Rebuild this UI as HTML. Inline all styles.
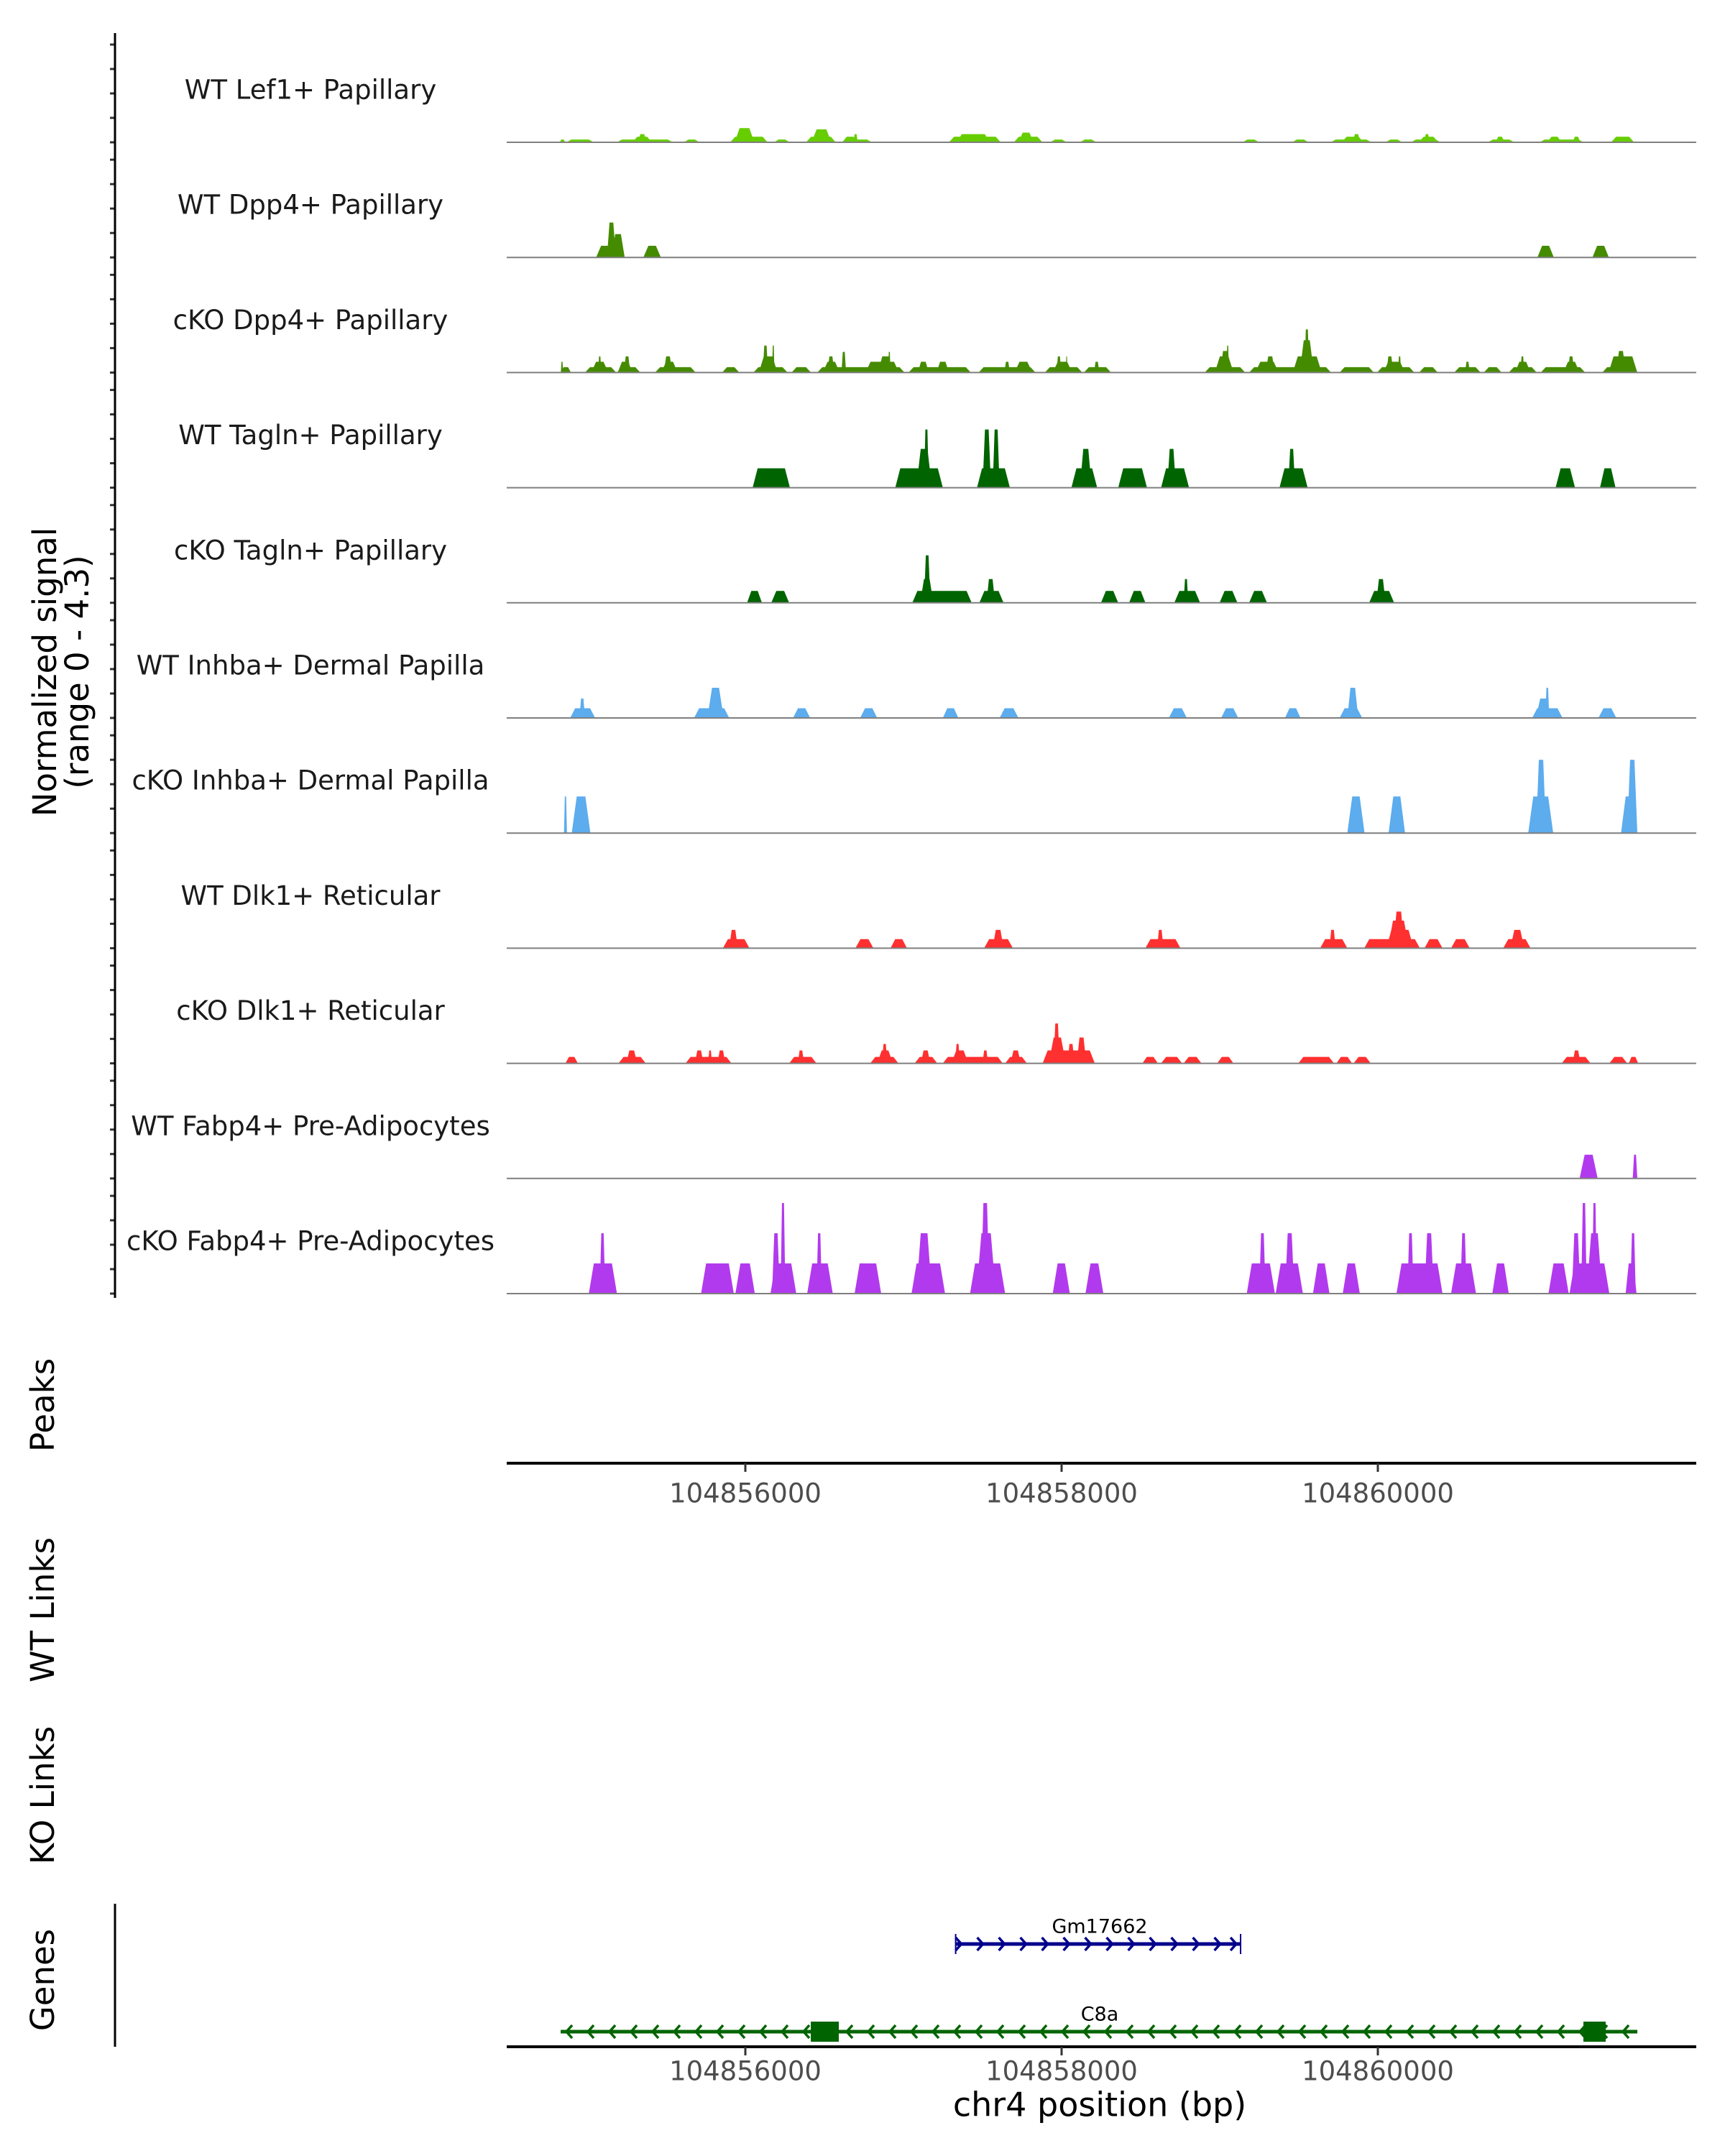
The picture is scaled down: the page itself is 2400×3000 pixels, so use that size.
<!DOCTYPE html>
<html><head><meta charset="utf-8">
<style>
html,body{margin:0;padding:0;background:#fff;}
svg{display:block;font-family:"DejaVu Sans","Liberation Sans",sans-serif;}
</style></head>
<body>
<svg id="chart" width="2400" height="3000" viewBox="0 0 2400 3000" xmlns="http://www.w3.org/2000/svg">
<rect width="2400" height="3000" fill="#fff"/>
<g id="tracks"></g>
<g id="axes"></g>
<g id="genes"></g>
</svg>
<script>
// ---------- data ----------
const trackNames = ["WT Lef1+ Papillary","WT Dpp4+ Papillary","cKO Dpp4+ Papillary","WT Tagln+ Papillary","cKO Tagln+ Papillary","WT Inhba+ Dermal Papilla","cKO Inhba+ Dermal Papilla","WT Dlk1+ Reticular","cKO Dlk1+ Reticular","WT Fabp4+ Pre-Adipocytes","cKO Fabp4+ Pre-Adipocytes"];
const trackColors = ["#66CD00","#458B00","#458B00","#006400","#006400","#5CACEE","#5CACEE","#FF3030","#FF3030","#B23AEE","#B23AEE"];
const xTicks = [104856000,104858000,104860000];
const xTickLabels = ["104856000","104858000","104860000"];
const yRangeMax = 4.3;

// each block: [start bp, end bp, signal]
const lef1WT = [[104854826,104854861,0.13],[104854868,104855042,0.13],[104855188,104855542,0.13],[104855285,104855410,0.26],[104855320,104855376,0.38],[104855612,104855709,0.13],[104855904,104856141,0.26],[104855932,104856057,0.66],[104856182,104856280,0.13],[104856384,104856572,0.26],[104856419,104856544,0.6],[104856606,104856801,0.13],[104856613,104856711,0.26],[104856683,104856711,0.38],[104857288,104857615,0.26],[104857337,104857546,0.38],[104857698,104857879,0.26],[104857726,104857824,0.45],[104857928,104858032,0.13],[104858116,104858220,0.13],[104859145,104859249,0.13],[104859458,104859562,0.13],[104859702,104859959,0.13],[104859771,104859910,0.26],[104859841,104859889,0.38],[104860049,104860154,0.13],[104860209,104860397,0.13],[104860258,104860383,0.26],[104860293,104860328,0.38],[104860696,104860863,0.13],[104860745,104860801,0.26],[104861023,104861301,0.13],[104861072,104861162,0.26],[104861232,104861280,0.26],[104861475,104861621,0.26]];
const dpp4WT = [[104855056,104855237,0.54],[104855153,104855237,1.08],[104855125,104855181,1.62],[104855355,104855466,0.54],[104861009,104861113,0.54],[104861357,104861461,0.54]];
const dpp4KO = [[104854833,104854897,0.25],[104854833,104854848,0.5],[104854986,104855183,0.25],[104855025,104855134,0.5],[104855069,104855089,0.75],[104855188,104855336,0.25],[104855193,104855286,0.5],[104855232,104855272,0.75],[104855429,104855686,0.25],[104855469,104855572,0.5],[104855484,104855538,0.75],[104855853,104855962,0.25],[104856051,104856267,0.25],[104856085,104856203,0.75],[104856110,104856144,1.25],[104856169,104856184,1.25],[104856292,104856415,0.25],[104856455,104857007,0.25],[104856489,104856598,0.5],[104856519,104856563,0.75],[104856608,104856637,0.96],[104856760,104856972,0.5],[104856839,104856933,0.75],[104856903,104856918,0.96],[104857032,104857426,0.25],[104857091,104857160,0.5],[104857209,104857288,0.5],[104857475,104857835,0.25],[104857638,104857673,0.5],[104857702,104857815,0.5],[104857894,104858131,0.25],[104857944,104858067,0.5],[104857968,104857998,0.75],[104858027,104858037,0.75],[104858141,104858313,0.25],[104858205,104858239,0.5],[104858905,104859161,0.25],[104858969,104859087,0.75],[104859004,104859063,1.0],[104859043,104859058,1.25],[104859186,104859704,0.25],[104859225,104859373,0.5],[104859290,104859349,0.75],[104859462,104859645,0.75],[104859506,104859595,1.5],[104859536,104859566,2.0],[104859758,104859975,0.25],[104859995,104860231,0.25],[104860034,104860172,0.5],[104860054,104860098,0.75],[104860128,104860147,0.75],[104860261,104860379,0.25],[104860483,104860650,0.25],[104860552,104860581,0.5],[104860670,104860783,0.25],[104860828,104861005,0.25],[104860867,104860966,0.5],[104860902,104860926,0.75],[104861030,104861311,0.25],[104861173,104861276,0.5],[104861202,104861242,0.75],[104861419,104861641,0.25],[104861459,104861641,0.75],[104861508,104861567,1.0]];
const taglnWT = [[104856046,104856282,0.9],[104856948,104857249,0.9],[104857081,104857180,1.8],[104857130,104857160,2.7],[104857465,104857673,0.9],[104857500,104857554,2.7],[104857564,104857608,2.7],[104858062,104858225,0.9],[104858116,104858190,1.8],[104858358,104858540,0.9],[104858629,104858806,0.9],[104858668,104858723,1.8],[104859378,104859556,0.9],[104859433,104859477,1.8],[104861124,104861247,0.9],[104861405,104861503,0.9]];
const taglnKO = [[104856011,104856105,0.55],[104856164,104856277,0.55],[104857056,104857431,0.55],[104857106,104857189,1.1],[104857130,104857170,2.2],[104857480,104857633,0.55],[104857525,104857579,1.1],[104858249,104858358,0.55],[104858427,104858530,0.55],[104858713,104858876,0.55],[104858772,104858801,1.1],[104858999,104859112,0.55],[104859186,104859299,0.55],[104859945,104860103,0.55],[104859990,104860049,1.1]];
const inhbaWT = [[104854892,104855050,0.45],[104854951,104854986,0.9],[104855676,104855898,0.45],[104855760,104855863,1.4],[104856302,104856410,0.45],[104856726,104856834,0.45],[104857249,104857347,0.45],[104857608,104857727,0.45],[104858678,104858792,0.45],[104859009,104859117,0.45],[104859413,104859511,0.45],[104859758,104859901,0.45],[104859807,104859876,1.4],[104860976,104861168,0.45],[104861000,104861094,0.9],[104861059,104861084,1.4],[104861395,104861508,0.45]];
const inhbaKO = [[104854853,104854872,1.7],[104854902,104855020,1.7],[104859807,104859916,1.7],[104860068,104860172,1.7],[104860951,104861109,1.7],[104861000,104861064,3.4],[104861538,104861641,1.7],[104861577,104861641,3.4]];
const dlk1WT = [[104855858,104856026,0.42],[104855898,104855952,0.85],[104856696,104856810,0.42],[104856918,104857022,0.42],[104857510,104857692,0.42],[104857564,104857633,0.85],[104858530,104858752,0.42],[104858604,104858644,0.85],[104859635,104859807,0.42],[104859694,104859733,0.85],[104859914,104860266,0.42],[104860054,104860226,0.85],[104860064,104860197,1.28],[104860098,104860167,1.7],[104860295,104860409,0.42],[104860463,104860581,0.42],[104860793,104860966,0.42],[104860838,104860926,0.85]];
const dlk1KO = [[104854862,104854941,0.3],[104855198,104855370,0.3],[104855247,104855316,0.6],[104855622,104855912,0.3],[104855681,104855735,0.6],[104855765,104855789,0.6],[104855824,104855873,0.6],[104856277,104856450,0.3],[104856332,104856371,0.6],[104856790,104856968,0.3],[104856834,104856933,0.6],[104856864,104856898,0.9],[104857071,104857214,0.3],[104857110,104857170,0.6],[104857249,104857628,0.3],[104857303,104857411,0.6],[104857327,104857357,0.9],[104857500,104857535,0.6],[104857643,104857781,0.3],[104857677,104857742,0.6],[104857880,104858210,0.6],[104857919,104858027,1.2],[104857949,104857988,1.85],[104858037,104858082,0.9],[104858096,104858156,1.2],[104858511,104858609,0.3],[104858629,104858762,0.3],[104858772,104858885,0.3],[104858984,104859087,0.3],[104859497,104859723,0.3],[104859738,104859837,0.3],[104859847,104859955,0.3],[104861163,104861345,0.3],[104861232,104861281,0.6],[104861464,104861577,0.3],[104861587,104861646,0.3]];
const fabp4WT = [[104861276,104861390,1.1],[104861612,104861641,1.1]];
const fabp4KO = [[104855010,104855188,1.4],[104855079,104855114,2.8],[104855720,104855927,1.4],[104855937,104856060,1.4],[104856159,104856322,1.4],[104856169,104856218,2.8],[104856223,104856253,4.2],[104856391,104856553,1.4],[104856450,104856484,2.8],[104856691,104856859,1.4],[104857051,104857263,1.4],[104857081,104857180,2.8],[104857421,104857643,1.4],[104857461,104857584,2.8],[104857490,104857544,4.2],[104857944,104858052,1.4],[104858151,104858264,1.4],[104859171,104859349,1.4],[104859250,104859290,2.8],[104859354,104859526,1.4],[104859413,104859472,2.8],[104859590,104859694,1.4],[104859778,104859886,1.4],[104860118,104860409,1.4],[104860187,104860226,2.8],[104860295,104860354,2.8],[104860463,104860621,1.4],[104860522,104860562,2.8],[104860724,104860828,1.4],[104861079,104861207,1.4],[104861212,104861464,1.4],[104861227,104861281,2.8],[104861286,104861321,4.2],[104861321,104861419,2.8],[104861355,104861385,4.2],[104861567,104861636,1.4],[104861597,104861631,2.8]];
const trackData = [lef1WT,dpp4WT,dpp4KO,taglnWT,taglnKO,inhbaWT,inhbaKO,dlk1WT,dlk1KO,fabp4WT,fabp4KO];

const geneNames = ["Gm17662","C8a"];
const geneStarts = [104857330,104854832];
const geneEnds = [104859132,104861641];
const geneStrands = [1,-1];
const geneColors = ["#00008B","#006400"];
const c8aExonStarts = [104856414,104861300];
const c8aExonEnds = [104856591,104861441];

// ---------- scales ----------
const NS="http://www.w3.org/2000/svg";
const X0=705, X1=2360;
function xs(bp){return 1037 + (bp-104856000)*0.22;}
const BASE0=198, TRACK_STEP=160.2, PX_PER_UNIT=30;
function baseY(i){return BASE0 + TRACK_STEP*i;}
function ys(i,v){return baseY(i) - v*PX_PER_UNIT;}
function mk(tag,attrs,parent){const e=document.createElementNS(NS,tag);for(const k in attrs)e.setAttribute(k,attrs[k]);parent.appendChild(e);return e;}

const gT=document.getElementById('tracks'), gA=document.getElementById('axes'), gG=document.getElementById('genes');

trackNames.forEach((name,i)=>{
  const g=mk('g',{},gT);
  
  
  const lbl=mk('text',{x:432,y:baseY(i)-71,'text-anchor':'middle','dominant-baseline':'middle','font-size':37,fill:'#1a1a1a'},g);
  lbl.textContent=name;
  
  
  trackData[i].forEach(b=>{
    const a=xs(b[0]), c=xs(b[1]), y0=baseY(i), y1=ys(i,b[2]);
    const s=Math.min(7,(c-a)/3.5);
    const p=mk('polygon',{points:`${a},${y0} ${a+s},${y1} ${c-s},${y1} ${c},${y0}`,fill:trackColors[i]},g);
    
    
  });
  const bl=mk('line',{x1:X0,x2:X1,y1:baseY(i),y2:baseY(i),stroke:'#7f7f7f','stroke-width':2},g);
  
  
  for(let k=0;k<5;k++){
    const t=mk('line',{x1:153,x2:160,y1:baseY(i)-34*k,y2:baseY(i)-34*k,stroke:'#333','stroke-width':3},gA);
    
    
  }
});

// left axis
const ya=mk('line',{x1:160,x2:160,y1:46,y2:1806,stroke:'#000','stroke-width':3},gA);



function vtext(txt,x,y,size,name){
  const t=mk('text',{x:0,y:0,transform:`translate(${x},${y}) rotate(-90)`,'text-anchor':'middle','dominant-baseline':'middle','font-size':size,fill:'#000'},gA);
  t.textContent=txt;
  
  
}
vtext('Normalized signal',66,935,45,'y-axis-title');
vtext('(range 0 - 4.3)',111,935,45,'y-axis-subtitle');
vtext('Peaks',63,1955,45,'peaks-label');
vtext('WT Links',63,2240,45,'wt-links-label');
vtext('KO Links',63,2498,45,'ko-links-label');
vtext('Genes',63,2755,45,'genes-label');

function xAxis(y,labelY,name){
  const l=mk('line',{x1:X0,x2:X1,y1:y,y2:y,stroke:'#000','stroke-width':4},gA);
  
  
  xTicks.forEach((t,k)=>{
    const tk=mk('line',{x1:xs(t),x2:xs(t),y1:y,y2:y+12,stroke:'#333','stroke-width':3},gA);
    
    
    const tl=mk('text',{x:xs(t),y:labelY,'text-anchor':'middle','dominant-baseline':'middle','font-size':37,fill:'#4d4d4d'},gA);
    tl.textContent=xTickLabels[k];
    
    
  });
}
xAxis(2036,2080,'peaks-x-axis');
xAxis(2848,2884,'x-axis');
const xt=mk('text',{x:1530,y:2932,'text-anchor':'middle','dominant-baseline':'middle','font-size':46,fill:'#000'},gA);
xt.textContent='chr4 position (bp)';



const gl=mk('line',{x1:160,x2:160,y1:2649,y2:2848,stroke:'#000','stroke-width':3},gA);



// genes
const geneY=[2705,2827], labelY=[2682,2804];
geneNames.forEach((n,i)=>{
  const g=mk('g',{},gG);
  
  
  const a=xs(geneStarts[i]), b=xs(geneEnds[i]), y=geneY[i], col=geneColors[i];
  mk('line',{x1:a,x2:b,y1:y,y2:y,stroke:col,'stroke-width':5},g);
  const dir=geneStrands[i];
  for(let x=a+8;x<=b-4;x+=30){
    const d=dir*8;
    mk('polyline',{points:`${x-d},${y-9} ${x},${y} ${x-d},${y+9}`,fill:'none',stroke:col,'stroke-width':3.5},g);
  }
  if(dir>0){
    mk('line',{x1:a,x2:a,y1:y-14,y2:y+14,stroke:col,'stroke-width':2},g);
    mk('line',{x1:b,x2:b,y1:y-14,y2:y+14,stroke:col,'stroke-width':2},g);
    mk('polyline',{points:`${b-14},${y-9} ${b-6},${y} ${b-14},${y+9}`,fill:'none',stroke:col,'stroke-width':3.5},g);
  }
  const t=mk('text',{x:1530,y:labelY[i],'text-anchor':'middle','dominant-baseline':'middle','font-size':27,fill:'#000'},g);
  t.textContent=n;
  
  
  if(n==='C8a'){
    c8aExonStarts.forEach((s,k)=>{
      const r=mk('rect',{x:xs(s),y:y-14,width:xs(c8aExonEnds[k])-xs(s),height:28,fill:col},g);
      
      
    });
  }
});
</script>
</body></html>
